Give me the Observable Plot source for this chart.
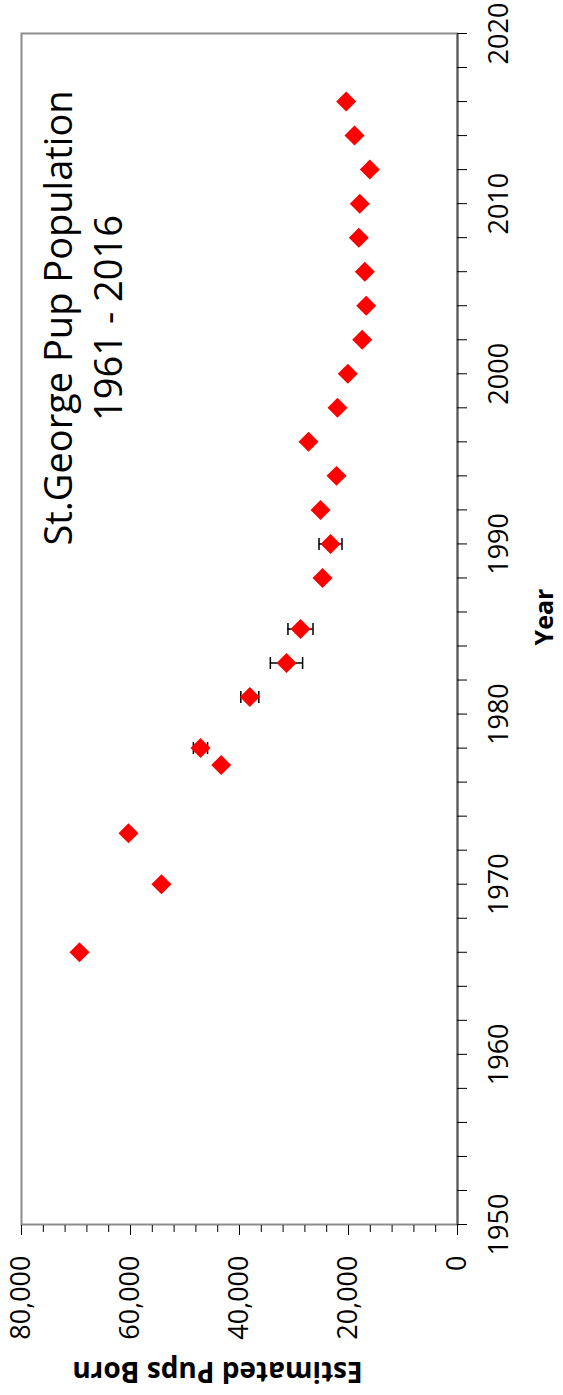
<!DOCTYPE html>
<html>
<head>
<meta charset="utf-8">
<script src="https://cdn.jsdelivr.net/npm/d3@7"></script>
<script src="https://cdn.jsdelivr.net/npm/@observablehq/plot@0.6"></script>
<style>
  html, body { margin: 0; padding: 0; background: #fff; }
  #wrap { position: relative; width: 563px; height: 1395px; overflow: hidden; background: #fff; }
  #wrap svg { position: absolute !important; left: 0; top: 0; width: 1395px !important; height: 563px !important; max-width: none !important; transform-origin: 0 0; transform: translate(0px, 1395px) rotate(-90deg); }
</style>
</head>
<body>
<div id="wrap"></div>
<script>
// Data
const years = [1966, 1970, 1973, 1977, 1978, 1981, 1983, 1985, 1988, 1990, 1992, 1994, 1996, 1998, 2000, 2002, 2004, 2006, 2008, 2010, 2012, 2014, 2016];
const pups  = [69360, 54320, 60370, 43360, 47160, 38110, 31380, 28810, 24770, 23300, 25140, 22200, 27340, 22020, 20130, 17490, 16750, 17010, 18110, 17930, 16090, 18900, 20420];
const errs  = [0, 0, 0, 0, 1300, 1650, 2960, 2300, 0, 2110, 0, 0, 0, 0, 0, 0, 0, 0, 0, 0, 0, 0, 0];

const yearTicks = [1950, 1960, 1970, 1980, 1990, 2000, 2010, 2020];
const yearMinorTicks = d3.range(1950, 2021, 2);
const popTicks = [0, 20000, 40000, 60000, 80000];
const popMinorTicks = d3.range(0, 80001, 4000);

const titleLines = ["St.George Pup Population", "1961 - 2016"];
const xTitle = "Year";
const yTitle = "Estimated Pups Born";

const data = years.map((y, i) => ({year: y, pop: pups[i], err: errs[i]}));
const errData = data.filter(d => d.err > 0);

const capSymbol = {draw(ctx) { ctx.moveTo(-6, 0); ctx.lineTo(6, 0); }};
const font = "'Open Sans', sans-serif";

const chart = Plot.plot({
  width: 1395,
  height: 563,
  marginLeft: 170,
  marginRight: 34,
  marginTop: 21,
  marginBottom: 106,
  style: {fontFamily: font, background: "#fff", color: "#000"},
  x: {domain: [1950, 2020], axis: null},
  y: {domain: [0, 80000], axis: null},
  marks: [
    Plot.frame({stroke: "#8c8c8c", strokeWidth: 2}),
    Plot.ruleY([0], {stroke: "#595959", strokeWidth: 2}),
    // year axis ticks + labels
    Plot.axisX({ticks: yearMinorTicks, tickSize: 10, fill: "none", stroke: "#000", label: null}),
    Plot.axisX({ticks: yearTicks, tickSize: 0, tickPadding: 31, fontSize: 27, tickFormat: d => String(d), fill: "#000", label: null}),
    // population axis ticks + labels
    Plot.axisY({ticks: popMinorTicks, tickSize: 7, fill: "none", stroke: "#000", label: null}),
    Plot.axisY({ticks: popTicks, tickSize: 10, fill: "none", stroke: "#000", label: null}),
    Plot.axisY({ticks: popTicks, tickSize: 0, tickPadding: 31, fontSize: 27, tickFormat: d3.format(","), fill: "#000", label: null}),
    // error bars
    Plot.ruleX(errData, {x: "year", y1: d => d.pop - d.err, y2: d => d.pop + d.err, stroke: "#000", strokeWidth: 1.5}),
    Plot.dot(errData, {x: "year", y: d => d.pop - d.err, symbol: capSymbol, r: 3, stroke: "#000", strokeWidth: 1.5, fill: "none"}),
    Plot.dot(errData, {x: "year", y: d => d.pop + d.err, symbol: capSymbol, r: 3, stroke: "#000", strokeWidth: 1.5, fill: "none"}),
    // points
    Plot.dot(data, {x: "year", y: "pop", symbol: "diamond2", r: 9, fill: "#ff0000", stroke: "none"}),
    // title
    Plot.text([titleLines.join("\n")], {frameAnchor: "top", textAnchor: "middle", dx: 311, dy: 15, lineAnchor: "top", lineHeight: 1.32, fontSize: 38, fill: "#000"}),
    // axis titles
    Plot.text([xTitle], {frameAnchor: "bottom", textAnchor: "middle", dx: 12, dy: 78, lineAnchor: "top", fontSize: 25, fontWeight: "bold", fill: "#000"}),
    Plot.text([yTitle], {frameAnchor: "left", textAnchor: "middle", dx: -157, dy: -22, rotate: -90, lineAnchor: "top", fontSize: 28, fontWeight: "bold", fill: "#000"})
  ]
});

document.getElementById("wrap").appendChild(chart);
</script>
</body>
</html>
